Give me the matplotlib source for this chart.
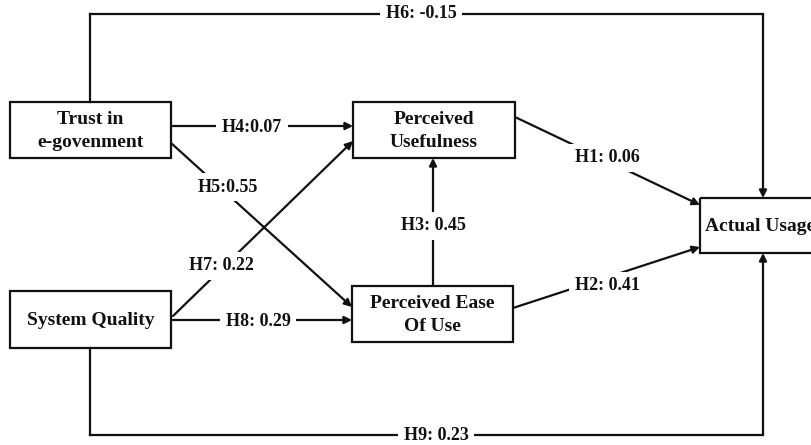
import matplotlib
matplotlib.use("Agg")
import matplotlib.pyplot as plt
from matplotlib.patches import Rectangle, FancyArrowPatch

plt.rcParams['font.family'] = ['Liberation Serif', 'DejaVu Serif']

# constructs of the model
constructs = ["Trust in\ne-govenment", "System Quality", "Perceived\nUsefulness",
              "Perceived Ease\nOf Use", "Actual Usage"]
# hypotheses: name, source, target, path coefficient
hyp_names = ["H1", "H2", "H3", "H4", "H5", "H6", "H7", "H8", "H9"]
hyp_src = [2, 3, 3, 0, 0, 0, 1, 1, 1]
hyp_dst = [4, 4, 2, 2, 3, 4, 2, 3, 4]
hyp_coef = ["0.06", "0.41", "0.45", "0.07", "0.55", "-0.15", "0.22", "0.29", "0.23"]
hyp_sep = [": ", ": ", ": ", ":", ":", ": ", ": ", ": ", ": "]

# layout in pixel coords (x0, y0, x1, y1)
boxes = [(10, 102, 171, 158), (10, 291, 171, 348), (353, 102, 515, 158),
         (352, 286, 513, 342), (700, 198, 840, 253)]

# edge geometry: polyline points (last segment gets arrow), label position
edge_path = {
    "H1": [(515, 117), (700, 205)],
    "H2": [(513, 308), (700, 247)],
    "H3": [(433, 286), (433, 158)],
    "H4": [(171, 126), (353, 126)],
    "H5": [(171, 143), (352, 307)],
    "H6": [(90, 102), (90, 14), (763, 14), (763, 198)],
    "H7": [(173, 316), (353, 141)],
    "H8": [(171, 320), (352, 320)],
    "H9": [(90, 348), (90, 435), (763, 435), (763, 253)],
}
label_pos = {
    "H1": (607, 158), "H2": (607, 286), "H3": (433, 226), "H4": (252, 127),
    "H5": (228, 187), "H6": (421, 14), "H7": (221, 266), "H8": (258, 322),
    "H9": (436, 435),
}

W, H = 812, 445
fig = plt.figure(figsize=(W / 100, H / 100), dpi=100)
ax = fig.add_axes([0, 0, 1, 1])
ax.set_xlim(0, W)
ax.set_ylim(H, 0)
ax.axis("off")

ink = "#111111"
lw = 1.6

for name, box in zip(constructs, boxes):
    x0, y0, x1, y1 = box
    ax.add_patch(Rectangle((x0, y0), x1 - x0, y1 - y0, fill=False,
                           ec=ink, lw=lw, zorder=3, clip_on=True))
    if name == "Actual Usage":
        # the reference crops this box at the right edge of the picture
        ax.text(x0 + 5, (y0 + y1) / 2 + 1, name, ha="left", va="center",
                fontsize=14, fontweight="bold", color=ink, zorder=4)
    else:
        ax.text((x0 + x1) / 2, (y0 + y1) / 2 + 1, name, ha="center",
                va="center", fontsize=14, fontweight="bold", color=ink,
                linespacing=1.4, zorder=4)

for name, sep, coef in zip(hyp_names, hyp_sep, hyp_coef):
    pts = edge_path[name]
    for a, b in zip(pts[:-2], pts[1:-1]):
        ax.plot([a[0], b[0]], [a[1], b[1]], color=ink, lw=lw,
                solid_capstyle="projecting", zorder=1)
    arr = FancyArrowPatch(pts[-2], pts[-1], arrowstyle="-|>",
                          mutation_scale=11, color=ink, lw=lw,
                          shrinkA=0, shrinkB=0, zorder=2)
    ax.add_patch(arr)
    lx, ly = label_pos[name]
    ax.text(lx, ly, f"{name}{sep}{coef}", ha="center", va="center",
            fontsize=13, fontweight="bold", color=ink, zorder=5,
            bbox=dict(boxstyle="square,pad=0.3", fc="white", ec="none"))

fig.savefig("out.png", dpi=100)
